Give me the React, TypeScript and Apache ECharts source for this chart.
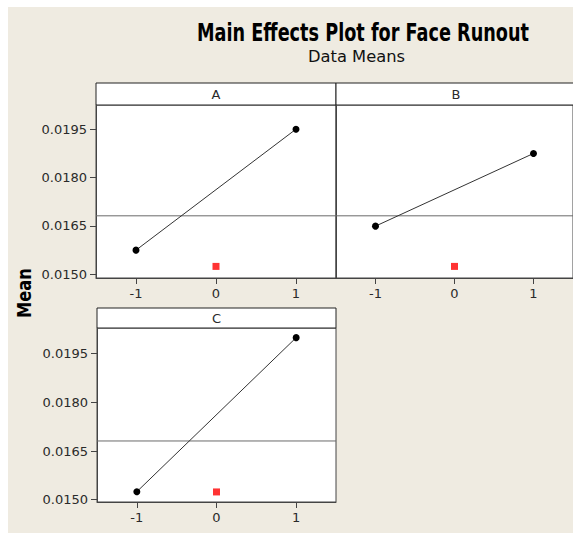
import React, { useEffect, useRef } from "react";
import * as echarts from "echarts";

const factors = ["A", "B", "C"];
const lowMeans = [0.015745, 0.01649, 0.015247];
const highMeans = [0.0195, 0.018746, 0.019993];
const centerMeans = [0.01524, 0.01524, 0.01524];
const grandMean = 0.01681;
const levels = [-1, 1];
const centerLevel = 0;
const xRange = [-1.5, 1.5];
const xTicks = [-1, 0, 1];
const yTicks = [0.015, 0.0165, 0.018, 0.0195];
const titleText = "Main Effects Plot for Face Runout";
const subtitleText = "Data Means";
const yAxisName = "Mean";

const FONT = "DejaVu Sans";
const BG = "#efebe1";
const BORDER = "#444444";
const TEXT = "#2a2a2a";

const panels = [
  { grid: { left: 88, top: 98, width: 240, height: 173 }, strip: { x: 88, y: 76, w: 240, h: 22 }, yr: [0.01488, 0.02025], labels: true },
  { grid: { left: 328, top: 98, width: 240, height: 173 }, strip: { x: 328, y: 76, w: 240, h: 22 }, yr: [0.01488, 0.02025], labels: false },
  { grid: { left: 89, top: 321, width: 239, height: 174 }, strip: { x: 89, y: 301, w: 239, h: 20 }, yr: [0.01493, 0.02029], labels: true },
];

function fitScale(text: string, font: string, target: number): number {
  const c = document.createElement("canvas").getContext("2d");
  if (!c) return 1;
  c.font = font;
  const w = c.measureText(text).width;
  return w > 0 ? target / w : 1;
}

export default function App() {
  const ref = useRef<HTMLDivElement>(null);
  useEffect(() => {
    document.body.style.margin = "7px 0 0 8px";
    if (!ref.current) return;
    const chart = echarts.init(ref.current, null, { renderer: "svg" });

    const titleFont = `bold 24px "${FONT}"`;
    const subFont = `16px "${FONT}"`;
    const meanFont = `bold 19px "${FONT}"`;
    const titleScale = fitScale(titleText, titleFont, 332);
    const subScale = fitScale(subtitleText, subFont, 97);
    const meanScale = fitScale(yAxisName, meanFont, 50);

    const graphics: any[] = [
      {
        type: "text", x: 355, y: 25, scaleX: titleScale,
        style: { text: titleText, font: titleFont, fill: "#000", align: "center", verticalAlign: "middle" },
      },
      {
        type: "text", x: 348.5, y: 50, scaleX: subScale,
        style: { text: subtitleText, font: subFont, fill: "#111", align: "center", verticalAlign: "middle" },
      },
      {
        type: "text", x: 17, y: 286, rotation: Math.PI / 2, scaleX: meanScale,
        style: { text: yAxisName, font: meanFont, fill: "#000", align: "center", verticalAlign: "middle" },
      },
    ];
    panels.forEach((p, i) => {
      graphics.push({
        type: "rect",
        shape: { x: p.strip.x, y: p.strip.y, width: p.strip.w, height: p.strip.h },
        style: { fill: "#ffffff", stroke: "#222", lineWidth: 1 },
      });
      graphics.push({
        type: "text",
        x: p.strip.x + p.strip.w / 2,
        y: p.strip.y + p.strip.h / 2,
        style: { text: factors[i], font: `13px "${FONT}"`, fill: TEXT, align: "center", verticalAlign: "middle" },
      });
    });

    const axisLine = { show: true, onZero: false, lineStyle: { color: BORDER, width: 1 } };
    const labelStyle = { fontFamily: FONT, fontSize: 13, color: TEXT };

    const option: any = {
      animation: false,
      backgroundColor: BG,
      grid: panels.map((p) => ({
        ...p.grid,
        show: true,
        backgroundColor: "#ffffff",
        borderColor: BORDER,
        borderWidth: 1,
        containLabel: false,
      })),
      xAxis: panels.map((p, i) => ({
        type: "value",
        gridIndex: i,
        min: xRange[0],
        max: xRange[1],
        splitLine: { show: false },
        axisLine,
        axisTick: { show: true, length: 6, customValues: xTicks, lineStyle: { color: BORDER } },
        axisLabel: { ...labelStyle, margin: 9, customValues: xTicks, formatter: (v: number) => String(v) },
      })),
      yAxis: panels.map((p, i) => ({
        type: "value",
        gridIndex: i,
        min: p.yr[0],
        max: p.yr[1],
        splitLine: { show: false },
        axisLine,
        axisTick: { show: p.labels, length: 6, customValues: yTicks, lineStyle: { color: BORDER } },
        axisLabel: {
          ...labelStyle,
          show: p.labels,
          margin: 9,
          customValues: yTicks,
          formatter: (v: number) => v.toFixed(4),
        },
      })),
      series: panels.flatMap((p, i) => [
        {
          type: "line",
          xAxisIndex: i,
          yAxisIndex: i,
          data: [
            [xRange[0], grandMean],
            [xRange[1], grandMean],
          ],
          symbol: "none",
          lineStyle: { color: "#6a6a6a", width: 1 },
          silent: true,
          z: 2,
        },
        {
          type: "line",
          xAxisIndex: i,
          yAxisIndex: i,
          data: [
            [levels[0], lowMeans[i]],
            [levels[1], highMeans[i]],
          ],
          symbol: "circle",
          symbolSize: 7,
          itemStyle: { color: "#000" },
          lineStyle: { color: "#333", width: 1 },
          z: 3,
        },
        {
          type: "scatter",
          xAxisIndex: i,
          yAxisIndex: i,
          data: [[centerLevel, centerMeans[i]]],
          symbol: "rect",
          symbolSize: 7,
          itemStyle: { color: "#ff0000" },
          z: 4,
        },
      ]),
      graphic: graphics,
    };
    chart.setOption(option);
    return () => chart.dispose();
  }, []);
  return <div ref={ref} style={{ width: 565, height: 526 }} />;
}
